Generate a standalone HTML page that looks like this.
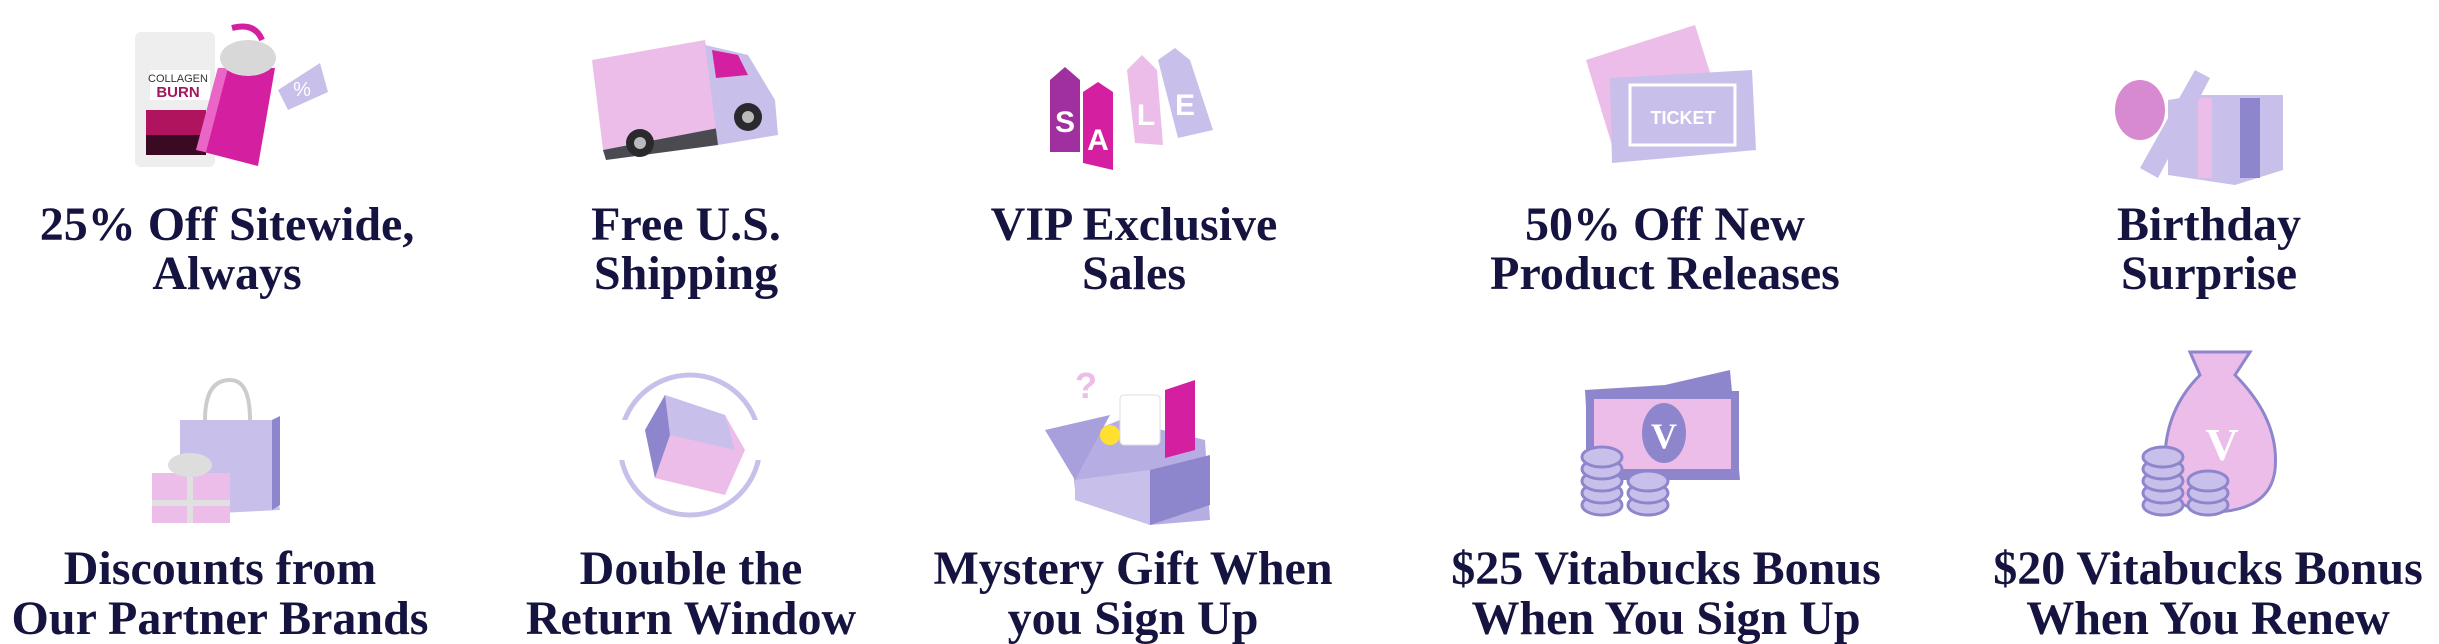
<!DOCTYPE html>
<html><head><meta charset="utf-8"><style>
html,body{margin:0;padding:0;background:#fff;width:2439px;height:644px;overflow:hidden}
svg{display:block}
text.t{font-family:"Liberation Serif",serif;font-weight:bold;font-size:48px;fill:#15133f;text-anchor:middle}
</style></head><body>
<svg width="2439" height="644" viewBox="0 0 2439 644" xmlns="http://www.w3.org/2000/svg">
<!-- Col1 row1: collagen + shaker -->
<rect x="135" y="32" width="80" height="135" rx="6" fill="#eeeeef"/>
<rect x="150" y="70" width="60" height="30" fill="#fff"/>
<text x="178" y="82" font-family="Liberation Sans" font-size="11" text-anchor="middle" fill="#333">COLLAGEN</text>
<text x="178" y="97" font-family="Liberation Sans" font-size="15" font-weight="bold" text-anchor="middle" fill="#a0185e">BURN</text>
<rect x="146" y="110" width="60" height="45" fill="#b0145e"/>
<rect x="146" y="135" width="60" height="20" fill="#3a0a22"/>
<polygon points="218,68 275,68 258,166 196,150" fill="#d420a0"/>
<polygon points="196,150 218,68 228,68 206,152" fill="#ea66c6"/>
<ellipse cx="248" cy="58" rx="28" ry="18" fill="#d8d8d8"/>
<path d="M232,28 Q255,22 262,40" stroke="#d420a0" stroke-width="6" fill="none"/>
<polygon points="278,90 320,63 328,92 288,110" fill="#c8c0ea"/>
<text x="302" y="96" font-family="Liberation Sans" font-size="20" fill="#fff" text-anchor="middle">%</text>
<!-- Col2 truck -->
<polygon points="592,60 705,40 718,128 603,150" fill="#ecbde8"/>
<polygon points="603,150 718,128 718,145 606,160" fill="#4a4a50"/>
<polygon points="705,45 748,55 775,100 778,135 718,145" fill="#c8c0ea"/>
<polygon points="712,50 738,55 748,75 716,78" fill="#d420a0"/>
<circle cx="640" cy="143" r="14" fill="#2a2a2e"/><circle cx="640" cy="143" r="6" fill="#bbb"/>
<circle cx="748" cy="117" r="14" fill="#2a2a2e"/><circle cx="748" cy="117" r="6" fill="#bbb"/>
<!-- Col3 SALE tags -->
<polygon points="1050,80 1065,67 1080,80 1080,152 1050,152" fill="#a030a0"/>
<polygon points="1083,92 1098,82 1113,92 1113,170 1083,163" fill="#d420a0"/>
<polygon points="1127,70 1142,55 1157,70 1163,145 1135,143" fill="#ecbde8"/>
<polygon points="1158,60 1175,48 1190,60 1213,130 1178,138" fill="#c8c0ea"/>
<text x="1065" y="132" font-family="Liberation Sans" font-weight="bold" font-size="30" fill="#fff" text-anchor="middle">S</text>
<text x="1098" y="150" font-family="Liberation Sans" font-weight="bold" font-size="30" fill="#fff" text-anchor="middle">A</text>
<text x="1146" y="125" font-family="Liberation Sans" font-weight="bold" font-size="30" fill="#fff" text-anchor="middle">L</text>
<text x="1185" y="115" font-family="Liberation Sans" font-weight="bold" font-size="30" fill="#fff" text-anchor="middle">E</text>
<!-- Col4 tickets -->
<polygon points="1586,60 1695,25 1725,120 1615,155" fill="#ecbde8"/>
<polygon points="1610,78 1752,70 1756,150 1612,163" fill="#c8c0ea"/>
<rect x="1630" y="85" width="105" height="60" fill="none" stroke="#fff" stroke-width="3"/>
<text x="1683" y="124" font-family="Liberation Sans" font-weight="bold" font-size="18" fill="#fff" text-anchor="middle">TICKET</text>
<!-- Col5 gift -->
<polygon points="2168,100 2200,95 2283,95 2283,170 2235,185 2168,175" fill="#c8c0ea"/>
<rect x="2198" y="98" width="14" height="80" fill="#ecbde8"/>
<rect x="2240" y="98" width="20" height="80" fill="#8e86cc"/>
<polygon points="2140,168 2195,70 2210,78 2158,178" fill="#c8c0ea"/>
<ellipse cx="2140" cy="110" rx="25" ry="30" fill="#d88ad0"/>
<!-- Row2 col1 bags -->
<polygon points="180,420 272,420 272,470 280,510 180,515" fill="#c8c0ea"/>
<polygon points="272,420 280,416 280,505 272,510" fill="#8e86cc"/>
<path d="M205,420 Q205,380 230,380 Q250,380 250,420" stroke="#ccc" stroke-width="4" fill="none"/>
<rect x="152" y="473" width="78" height="50" fill="#ecbde8"/>
<rect x="187" y="473" width="6" height="50" fill="#e0e0e0"/>
<rect x="152" y="500" width="78" height="6" fill="#e0e0e0"/>
<ellipse cx="190" cy="465" rx="22" ry="12" fill="#ddd"/>
<!-- Row2 col2 box with arrows -->
<circle cx="690" cy="445" r="70" fill="none" stroke="#c8c0ea" stroke-width="5"/>
<rect x="600" y="420" width="30" height="40" fill="#fff"/><rect x="750" y="420" width="30" height="40" fill="#fff"/>
<polygon points="665,395 725,415 745,450 725,495 655,478 645,430" fill="#ecbde8"/>
<polygon points="665,395 725,415 735,450 670,435" fill="#c8c0ea"/>
<polygon points="665,395 670,435 655,478 645,430" fill="#8e86cc"/>
<!-- Row2 col3 mystery box -->
<polygon points="1070,440 1120,420 1205,440 1210,520 1150,525 1075,490" fill="#b6aee2"/>
<polygon points="1075,480 1150,470 1150,525 1075,500" fill="#c8c0ea"/>
<polygon points="1150,470 1210,455 1210,505 1150,525" fill="#8e86cc"/>
<polygon points="1045,430 1110,415 1075,480" fill="#a8a0dc"/>
<rect x="1120" y="395" width="40" height="50" rx="4" fill="#fff" stroke="#ddd"/>
<polygon points="1165,390 1195,380 1195,450 1165,458" fill="#d420a0"/>
<circle cx="1110" cy="435" r="10" fill="#ffe030"/>
<text x="1075" y="398" font-family="Liberation Sans" font-weight="bold" font-size="36" fill="#ecbde8">?</text>
<!-- Row2 col4 money -->
<polygon points="1585,390 1665,385 1730,370 1740,480 1590,480" fill="#8e86cc"/>
<rect x="1590" y="395" width="145" height="78" fill="#ecbde8" stroke="#8e86cc" stroke-width="8"/>
<ellipse cx="1664" cy="433" rx="22" ry="30" fill="#8e86cc"/>
<text x="1664" y="448" font-family="Liberation Serif" font-weight="bold" font-size="36" fill="#fff" text-anchor="middle">V</text>
<g fill="#c8c0ea" stroke="#8e86cc" stroke-width="3">
<ellipse cx="1602" cy="505" rx="20" ry="10"/><ellipse cx="1602" cy="493" rx="20" ry="10"/><ellipse cx="1602" cy="481" rx="20" ry="10"/><ellipse cx="1602" cy="469" rx="20" ry="10"/><ellipse cx="1602" cy="457" rx="20" ry="10"/>
<ellipse cx="1648" cy="505" rx="20" ry="10"/><ellipse cx="1648" cy="493" rx="20" ry="10"/><ellipse cx="1648" cy="481" rx="20" ry="10"/>
</g>
<!-- Row2 col5 money bag -->
<path d="M2190,352 L2250,352 L2235,375 Q2280,420 2275,470 Q2270,510 2215,512 Q2160,510 2165,460 Q2165,410 2200,375 Z" fill="#ecbde8" stroke="#8e86cc" stroke-width="3"/>
<text x="2222" y="460" font-family="Liberation Serif" font-weight="bold" font-size="46" fill="#fff" text-anchor="middle">V</text>
<g fill="#c8c0ea" stroke="#8e86cc" stroke-width="3">
<ellipse cx="2163" cy="505" rx="20" ry="10"/><ellipse cx="2163" cy="493" rx="20" ry="10"/><ellipse cx="2163" cy="481" rx="20" ry="10"/><ellipse cx="2163" cy="469" rx="20" ry="10"/><ellipse cx="2163" cy="457" rx="20" ry="10"/>
<ellipse cx="2208" cy="505" rx="20" ry="10"/><ellipse cx="2208" cy="493" rx="20" ry="10"/><ellipse cx="2208" cy="481" rx="20" ry="10"/>
</g>
<!-- Labels -->
<text class="t" x="227" y="240">25% Off Sitewide,</text>
<text class="t" x="227" y="289">Always</text>
<text class="t" x="686" y="240">Free U.S.</text>
<text class="t" x="686" y="289">Shipping</text>
<text class="t" x="1134" y="240">VIP Exclusive</text>
<text class="t" x="1134" y="289">Sales</text>
<text class="t" x="1665" y="240">50% Off New</text>
<text class="t" x="1665" y="289">Product Releases</text>
<text class="t" x="2209" y="240">Birthday</text>
<text class="t" x="2209" y="289">Surprise</text>
<text class="t" x="220" y="584">Discounts from</text>
<text class="t" x="220" y="634">Our Partner Brands</text>
<text class="t" x="691" y="584">Double the</text>
<text class="t" x="691" y="634">Return Window</text>
<text class="t" x="1133" y="584">Mystery Gift When</text>
<text class="t" x="1133" y="634">you Sign Up</text>
<text class="t" x="1666" y="584">$25 Vitabucks Bonus</text>
<text class="t" x="1666" y="634">When You Sign Up</text>
<text class="t" x="2208" y="584">$20 Vitabucks Bonus</text>
<text class="t" x="2208" y="634">When You Renew</text>
</svg>
</body></html>
